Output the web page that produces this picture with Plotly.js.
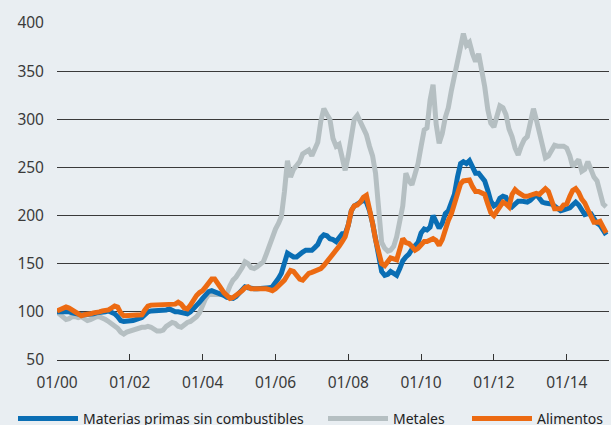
<!DOCTYPE html>
<html>
<head>
<meta charset="utf-8">
<script src="https://cdn.plot.ly/plotly-3.0.1.min.js"></script>
<style>
html,body{margin:0;padding:0;background:#e9eef2;}
#chart{width:611px;height:425px;}
</style>
</head>
<body>
<div id="chart"></div>
<script>
// Monthly index values, Jan 2000 = 100, from Jan 2000 to Feb 2015
var startYear = 2000;
var seriesNames = ["Materias primas sin combustibles", "Metales", "Alimentos"];
var tickLabels = ["01/00","01/02","01/04","01/06","01/08","01/10","01/12","01/14"];
var tickDates = ["2000-01-01","2002-01-01","2004-01-01","2006-01-01","2008-01-01","2010-01-01","2012-01-01","2014-01-01"];

var materiasPrimas = [
  100,100,101,101,100,99,98,98,97,97,97,97,
  98,99,99,100,100,101,100,98,95,91,90,90,
  90,91,92,93,94,97,100,101,101,102,101,102,
  102,103,101,100,100,99,98,98,100,103,107,110,
  114,117,121,122,121,120,119,117,115,114,114,116,
  119,122,126,125,124,124,124,124,125,125,125,126,
  130,135,140,150,161,159,157,157,160,162,164,164,
  164,167,170,177,180,179,176,175,173,177,181,181,
  190,205,210,212,214,216,214,205,192,175,158,142,
  138,139,142,140,138,145,153,157,160,165,168,172,
  182,186,185,188,200,192,187,192,202,205,215,222,
  240,254,256,254,257,250,244,244,240,236,226,215,
  210,212,218,220,219,212,209,213,215,215,214,214,
  216,219,222,218,214,213,213,212,210,207,205,206,
  207,208,211,214,211,205,201,202,202,197,192,190,
  186,180
];
var metales = [
  100,97,94,92,93,95,95,94,95,93,91,92,
  94,95,95,94,92,90,88,86,83,79,77,79,
  80,82,83,83,84,84,85,84,82,80,80,81,
  85,87,89,88,85,84,87,89,90,92,95,99,
  108,114,118,118,117,117,118,119,119,127,133,136,
  140,146,152,150,146,145,147,150,152,160,170,180,
  186,192,199,225,257,240,248,252,256,264,266,268,
  262,268,276,298,311,305,300,280,272,274,258,247,
  262,280,300,304,297,292,284,272,262,244,210,172,
  166,163,164,168,178,192,210,244,236,232,244,254,
  272,289,291,320,336,295,275,285,302,312,330,345,
  362,380,389,377,380,368,360,368,352,334,310,296,
  292,305,314,312,305,290,282,270,263,272,279,282,
  296,311,300,285,270,260,262,268,273,272,272,272,
  270,262,251,254,258,246,248,256,248,240,236,226,
  212,209
];
var alimentos = [
  101,102,103,105,104,102,101,98,96,97,97,98,
  99,99,100,101,101,102,104,106,105,99,96,96,
  96,96,96,97,97,102,106,107,107,108,108,108,
  108,107,108,108,110,108,104,103,107,113,117,120,
  122,126,131,134,134,130,125,120,116,114,115,117,
  119,122,125,126,124,124,125,125,124,124,123,122,
  124,127,129,133,138,143,142,138,134,133,136,140,
  141,142,144,145,148,152,155,160,164,168,173,178,
  190,205,210,211,214,219,221,208,192,175,160,150,
  148,152,156,155,154,165,176,172,171,168,164,166,
  170,173,173,174,176,174,169,175,186,195,202,212,
  225,233,236,237,237,230,225,225,223,222,212,203,
  200,205,210,214,212,209,222,227,224,222,220,220,
  221,222,223,222,225,228,225,215,207,207,207,211,
  212,220,226,228,224,217,213,206,198,193,193,194,
  188,182
];

function monthDates(n) {
  var out = [];
  for (var i = 0; i < n; i++) {
    var y = startYear + Math.floor(i / 12);
    var m = (i % 12) + 1;
    out.push(y + "-" + (m < 10 ? "0" + m : m) + "-01");
  }
  return out;
}
var dates = monthDates(materiasPrimas.length);

var traces = [
  {x: dates, y: metales, name: seriesNames[1], type: "scatter", mode: "lines",
   line: {color: "#b5bfc2", width: 5}, legend: "legend2"},
  {x: dates, y: materiasPrimas, name: seriesNames[0], type: "scatter", mode: "lines",
   line: {color: "#0a6eb4", width: 5}, legend: "legend"},
  {x: dates, y: alimentos, name: seriesNames[2], type: "scatter", mode: "lines",
   line: {color: "#ec6a12", width: 5}, legend: "legend3"}
];

function legendAt(px) {
  return {
    orientation: "h",
    x: px / 611, xanchor: "left", xref: "container",
    y: 22 / 425, yanchor: "top", yref: "container",
    font: {size: 14, color: "#222"},
    itemwidth: 60,
    bgcolor: "rgba(0,0,0,0)"
  };
}

var layout = {
  width: 611, height: 425,
  paper_bgcolor: "#e9eef2",
  plot_bgcolor: "#e9eef2",
  font: {family: "Noto Sans, sans-serif", color: "#3a3a3a", size: 15},
  margin: {l: 57, r: 2, t: 23, b: 65},
  xaxis: {
    type: "date",
    range: ["2000-01-01", "2015-03-01"],
    tickvals: tickDates, ticktext: tickLabels,
    ticks: "inside", ticklen: 6, tickwidth: 1, tickcolor: "#333",
    showline: true, linecolor: "#333", linewidth: 1,
    showgrid: false, zeroline: false,
    ticklabelstandoff: 8,
    tickfont: {size: 15.5}
  },
  yaxis: {
    range: [50, 400],
    tickvals: [50,100,150,200,250,300,350,400],
    showgrid: true, gridcolor: "#3a3a3a", gridwidth: 1,
    zeroline: false, showline: false,
    ticks: "", ticklabelstandoff: 12,
    tickfont: {size: 15.5}
  },
  showlegend: true,
  legend: legendAt(13),
  legend2: legendAt(323),
  legend3: legendAt(467)
};

Plotly.newPlot("chart", traces, layout, {displayModeBar: false, staticPlot: true});
</script>
</body>
</html>
